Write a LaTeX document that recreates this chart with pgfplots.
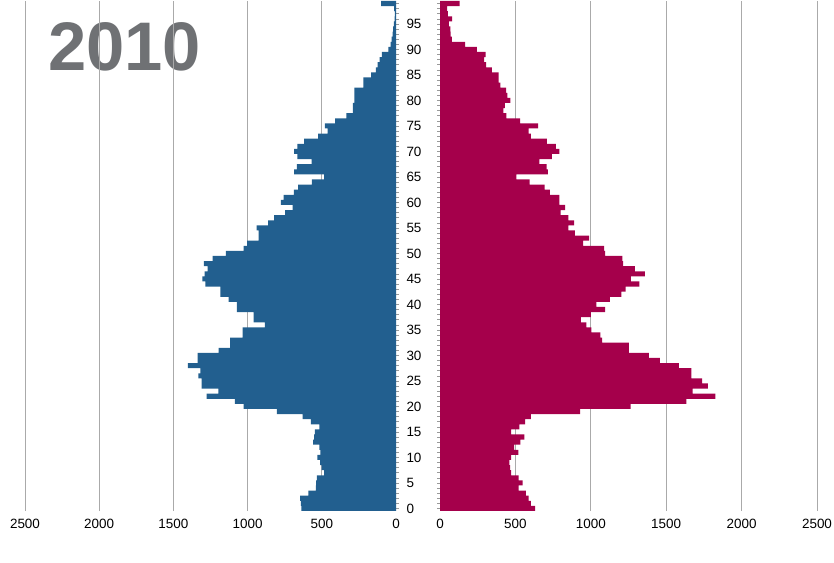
\documentclass[border=0pt]{standalone}
\usepackage{fontspec}
\setmainfont{Liberation Sans}
\usepackage{pgfplots}
\usepackage{pgfplotstable}
\pgfplotsset{compat=1.18}
\definecolor{mblue}{RGB}{34,95,143}
\definecolor{fred}{RGB}{165,0,75}
\definecolor{tgray}{RGB}{111,113,116}
\definecolor{grd}{RGB}{170,170,170}

\pgfplotstableread{
age m f
0 637 630
1 641 603
2 646 588
3 590 570
4 540 522
5 538 548
6 534 522
7 484 471
8 502 465
9 511 460
10 529 471
11 509 520
12 516 491
13 558 533
14 552 559
15 547 471
16 516 526
17 574 564
18 630 603
19 803 929
20 1027 1264
21 1085 1634
22 1276 1826
23 1197 1676
24 1309 1777
25 1309 1738
26 1332 1667
27 1318 1667
28 1403 1584
29 1336 1458
30 1336 1385
31 1195 1253
32 1117 1253
33 1117 1075
34 1034 1064
35 1034 1004
36 883 971
37 960 934
38 960 1000
39 1072 1095
40 1072 1037
41 1128 1126
42 1184 1203
43 1184 1231
44 1285 1322
45 1305 1266
46 1290 1359
47 1270 1293
48 1295 1214
49 1235 1209
50 1146 1095
51 1027 1088
52 1004 949
53 926 989
54 926 894
55 939 852
56 861 890
57 821 852
58 747 800
59 697 830
60 776 791
61 758 791
62 688 729
63 659 694
64 567 595
65 484 507
66 686 716
67 668 707
68 569 659
69 664 742
70 686 791
71 664 769
72 619 709
73 525 603
74 460 588
75 480 650
76 410 531
77 334 440
78 291 421
79 291 430
80 280 467
81 280 447
82 280 438
83 220 401
84 220 388
85 168 388
86 135 344
87 123 306
88 110 293
89 96 302
90 52 244
91 36 167
92 30 79
93 22 70
94 20 68
95 15 59
96 10 81
97 8 53
98 12 48
99 100 130
}\pop

\pgfplotsset{
  pyr/.style={
    scale only axis, height=510bp,
    xbar, bar width=1, bar shift=0pt,
    xmin=0, xmax=2500, ymin=-0.5, ymax=99.5,
    axis line style={draw=none},
    xtick={500,1000,...,2500},
    extra x ticks={0}, extra x tick style={grid=none},
    xmajorgrids, grid style={grd, line width=0.9bp},
    x tick style={draw=none},
    ytick={0,5,...,95}, minor ytick={0,1,...,99},
    tick align=outside,
    major tick length=3bp, minor tick length=3bp,
    y tick style={gray!80, line width=0.5bp},
    scaled x ticks=false,
    /pgf/number format/1000 sep={},
    /pgf/number format/assume math mode=true,
    tick label style={font=\fontsize{13.5}{15}\selectfont},
    xticklabel style={yshift=-2bp},
  }
}

\begin{document}
\begin{tikzpicture}
\node[anchor=base west, inner sep=0pt, text=tgray,
  font=\fontsize{69}{69}\selectfont\bfseries] at (48bp,492bp) {2010};

\begin{axis}[pyr,
  at={(25bp,52bp)}, anchor=south west, width=371bp,
  x dir=reverse,
  ytick pos=right, yticklabel pos=right,
  yticklabel style={xshift=4bp},
]
\addplot[draw=none, fill=mblue] table[x=m, y=age] {\pop};
\end{axis}

\begin{axis}[pyr,
  at={(440bp,52bp)}, anchor=south west, width=377bp,
  ytick pos=left, yticklabels={},
]
\addplot[draw=none, fill=fred] table[x=f, y=age] {\pop};
\end{axis}

\pgfresetboundingbox
\path[use as bounding box] (0,0) rectangle (834bp,563bp);
\end{tikzpicture}
\end{document}
